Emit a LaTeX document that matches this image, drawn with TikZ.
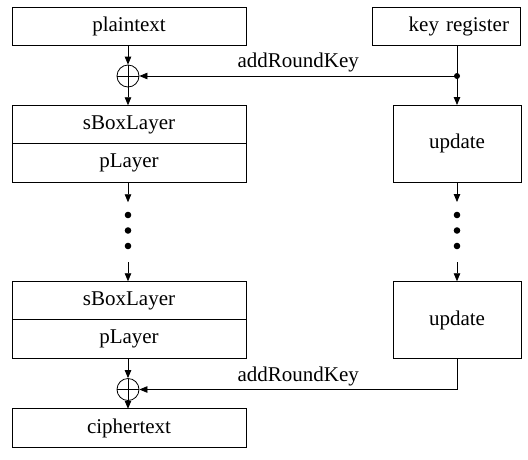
\documentclass[tikz,border=0pt]{standalone}
\usepackage{fontspec}
\setmainfont{Liberation Serif}
\usetikzlibrary{arrows.meta, positioning, calc}
\tikzset{>={Triangle[length=8pt,width=6.5pt]}}
\tikzset{
  blk/.style={draw, line width=0.8pt, inner sep=0pt, outer sep=0pt, minimum height=38.5pt, font=\fontsize{21}{25}\selectfont},
  xor/.style={draw, circle, line width=0.8pt, minimum size=22pt, inner sep=0pt,
    path picture={\draw[line width=0.8pt] (path picture bounding box.north) -- (path picture bounding box.south)
      (path picture bounding box.west) -- (path picture bounding box.east);}},
  dot/.style={circle, fill, inner sep=0pt, minimum size=6.6pt},
  jn/.style={circle, fill, inner sep=0pt, minimum size=6pt},
  lbl/.style={font=\fontsize{21}{25}\selectfont}
}

\begin{document}
\begin{tikzpicture}[x=1pt, y=-1pt, line width=0.8pt]
\useasboundingbox (0,0) rectangle (528,459);
% state column
\node[blk, minimum width=234pt] (plain) at (129,26.5) {plaintext};
\node[xor] (x1) at (128,76) {};
\node[blk, minimum width=234pt] (sbox1) at (129,124.5) {sBoxLayer};
\node[blk, minimum width=234pt, below=0pt of sbox1] (play1) {pLayer};
\node[blk, minimum width=234pt] (sbox2) at (129,300.5) {sBoxLayer};
\node[blk, minimum width=234pt, below=0pt of sbox2] (play2) {pLayer};
\node[xor] (x2) at (128,389.5) {};
\node[blk, minimum width=234pt] (cipher) at (129,428) {ciphertext};
% key column
\node[blk, minimum width=148pt, text width=126pt, inner xsep=11pt, align=right] (key) at (446,26.5) {key register};
\node[blk, minimum width=128pt, minimum height=77pt] (upd1) at (457,143.5) {update};
\node[blk, minimum width=128pt, minimum height=77.5pt] (upd2) at (457,320) {update};
% dots
\foreach \y [count=\i] in {215,230.5,246} {
  \node[dot] (ld\i) at (128,\y) {};
  \node[dot] (rd\i) at (457,\y) {};
}
\coordinate (la) at ($(play1.south -| x1)+(0,20)$);
\coordinate (lb) at ($(sbox2.north -| x1)+(0,-19)$);
\coordinate (ra) at ($(upd1.south)+(0,20)$);
\coordinate (rb) at ($(upd2.north)+(0,-19)$);
\node[jn] (j1) at (upd1.north |- x1) {};

\draw[->] (plain.south -| x1) -- (x1);
\draw[->] (x1) -- (sbox1.north -| x1);
\draw[->] (play1.south -| x1) -- (la);
\draw[->] (lb) -- (sbox2.north -| x1);
\draw[->] (play2.south -| x2) -- (x2);
\draw[->] (x2) -- (cipher.north -| x2);
\draw[->] (key.south -| upd1.north) -- (upd1.north);
\draw[->] (j1.center) -- node[lbl, above] {addRoundKey} (x1);
\draw[->] (upd1.south) -- (ra);
\draw[->] (rb) -- (upd2.north);
\draw[->] (upd2.south) |- node[lbl, above, pos=0.75] {addRoundKey} (x2);
\end{tikzpicture}
\end{document}
